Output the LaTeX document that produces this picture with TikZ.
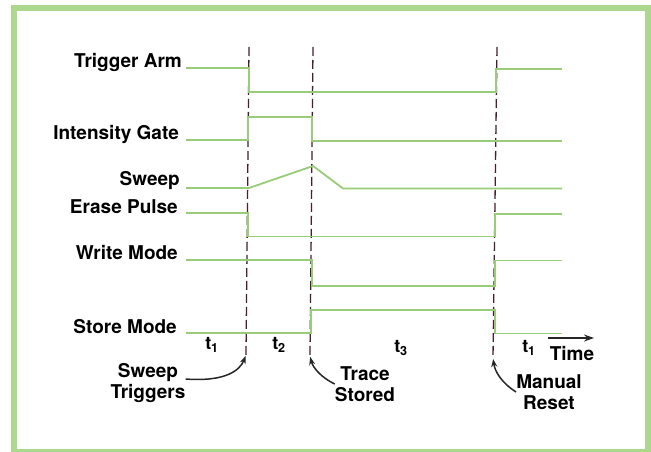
\documentclass[tikz,border=0pt]{standalone}
\usepackage{fontspec}
\setmainfont{TeX Gyre Heros}
\usetikzlibrary{arrows.meta}
\definecolor{sig}{RGB}{152,204,120}
\definecolor{rim}{RGB}{172,216,142}
\definecolor{evtcol}{RGB}{70,30,50}

\begin{document}
\begin{tikzpicture}[
  x=1pt, y=-1pt,
  >=Stealth,
  signal/.style={sig, line width=1.8pt, line join=miter},
  event/.style={evtcol, line width=1.3pt, dash pattern=on 9pt off 4pt},
  lbl/.style={font=\fontsize{19}{21}\selectfont\bfseries, anchor=east, inner sep=0pt},
  phase/.style={font=\fontsize{18}{20}\selectfont\bfseries, inner sep=0pt},
  note/.style={font=\fontsize{19}{21.5}\selectfont\bfseries, align=center, inner sep=0pt},
  pointer/.style={-{Stealth[length=8pt,width=6pt]}, line width=1.5pt, black!85, shorten >=1pt}
]
% frame
\useasboundingbox (0,0) rectangle (651,452);
\fill[white] (0,0) rectangle (651,452);
\draw[rim, line width=6pt] (14,8) rectangle (648,452);

% signal names
\node[lbl] (arm)   at (182,62)  {Trigger Arm};
\node[lbl] (gate)  at (179,135) {Intensity Gate};
\node[lbl] (swp)   at (180,181) {Sweep};
\node[lbl] (erase) at (178,207) {Erase Pulse};
\node[lbl] (write) at (178,253) {Write Mode};
\node[lbl] (store) at (177,327) {Store Mode};

% event markers (slightly tilted like the print)
\draw[event] (249,47) -- (246,355) coordinate (m1);
\draw[event] (313,47) -- (310,356) coordinate (m2);
\draw[event] (497,47) -- (493,358) coordinate (m3);

% waveforms
\draw[signal] (186,68) -- (249,68) -- (249,92) -- (496,92) -- (496,69) -- (562,69);
\draw[signal] (186,140) -- (248,140) -- (248,117) -- (312,117) -- (312,141) -- (562,141);
\draw[signal] (186,188) -- (249,188) -- (313,166) -- (343,188.5) -- (562,188.5);
\draw[signal] (186,213) -- (248,213) -- (248,236.5) -- (495,236.5) -- (495,214) -- (562,214);
\draw[signal] (186,260) -- (312,260) -- (312,286) -- (495,286) -- (495,260.5) -- (562,260.5);
\draw[signal] (186,333) -- (311,333) -- (311,310) -- (495,310) -- (495,333.5) -- (562,333.5);

% intervals
\node[phase] (p1) at (212,345) {t\textsubscript{1}};
\node[phase] (p2) at (279,345) {t\textsubscript{2}};
\node[phase] (p3) at (401,348) {t\textsubscript{3}};
\node[phase] (p4) at (529,348) {t\textsubscript{1}};
\node[phase, font=\fontsize{19}{21}\selectfont\bfseries] (time) at (572,354) {Time};
\coordinate (ts) at (548,338);
\coordinate (te) at (594,338);
\draw[-{Stealth[length=10pt,width=7pt]}, line width=1.6pt, black!85] (ts) -- (te);

% annotations
\node[note] (trig) at (148,383) {Sweep\\Triggers};
\node[note] (trace) at (365,384) {Trace\\Stored};
\node[note] (reset) at (549,392) {Manual\\Reset};
\draw[pointer] ([yshift=4pt]trig.east) .. controls (226,382) and (240,370) .. (m1);
\draw[pointer] (trace.west) .. controls (322,378) and (313,368) .. (m2);
\draw[pointer] (reset.west) .. controls (502,383) and (495,372) .. (m3);

\end{tikzpicture}
\end{document}
